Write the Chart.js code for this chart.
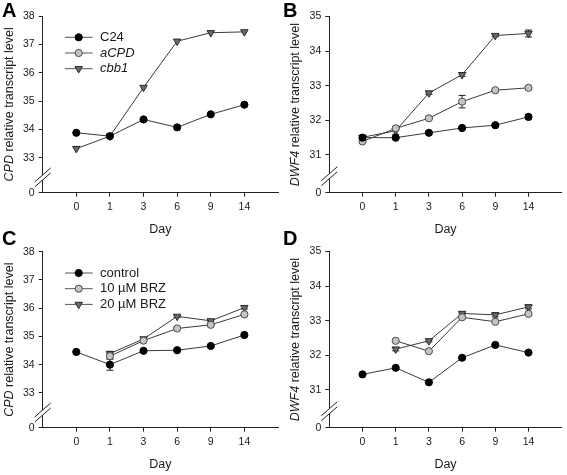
<!DOCTYPE html>
<html><head><meta charset="utf-8">
<script src="https://cdn.jsdelivr.net/npm/chart.js@4/dist/chart.umd.min.js"></script>
<style>
html,body{margin:0;padding:0;background:#fff;}
body{width:567px;height:475px;overflow:hidden;position:relative;}
canvas{position:absolute;}
</style></head>
<body>
<canvas id="cA" width="285" height="240" style="left:0px;top:0px"></canvas>
<canvas id="cB" width="287" height="240" style="left:280px;top:0px"></canvas>
<canvas id="cC" width="285" height="253" style="left:0px;top:222px"></canvas>
<canvas id="cD" width="287" height="253" style="left:280px;top:222px"></canvas>
<script>
// ---------- data ----------
const days = ['0', '1', '3', '6', '9', '14'];
const cpdTicks = [33, 34, 35, 36, 37, 38];
const dwfTicks = [31, 32, 33, 34, 35];
const cpdAxisBottom = 31.765;   // value shown as the broken "0"
const dwfAxisBottom = 29.91;
const breakLabel = '0';

const legendAB = ['C24', 'aCPD', 'cbb1'];
const legendCD = ['control', '10 µM BRZ', '20 µM BRZ'];

// Panel A: CPD transcript
const aC24  = [33.88, 33.76, 34.35, 34.07, 34.53, 34.87];
const aACPD = [null, null, null, null, null, null];
const aCBB1 = [33.32, 33.76, 35.48, 37.11, 37.41, 37.44];

// Panel B: DWF4 transcript
const bC24  = [31.50, 31.50, 31.64, 31.78, 31.86, 32.10];
const bACPD = [31.39, 31.77, 32.06, 32.54, 32.87, 32.94];
const bCBB1 = [31.51, 31.70, 32.79, 33.32, 34.45, 34.51];
const bC24Err  = [0.03, 0.03, 0.03, 0.03, 0.04, 0.06];
const bACPDErr = [0.03, 0.05, 0.03, 0.18, 0.03, 0.03];
const bCBB1Err = [0.03, 0.10, 0.04, 0.05, 0.03, 0.10];

// Panel C: CPD with BRZ
const cCtrl = [34.45, 34.00, 34.49, 34.51, 34.66, 35.05];
const cB10  = [null, 34.30, 34.85, 35.28, 35.41, 35.78];
const cB20  = [null, 34.39, 34.91, 35.71, 35.55, 36.02];
const cCtrlErr = [0.03, 0.20, 0.03, 0.03, 0.05, 0.03];
const cB10Err  = [null, 0.10, 0.03, 0.03, 0.03, 0.03];
const cB20Err  = [null, 0.08, 0.03, 0.03, 0.03, 0.05];

// Panel D: DWF4 with BRZ
const dCtrl = [31.45, 31.64, 31.22, 31.93, 32.30, 32.08];
const dB10  = [null, 32.42, 32.12, 33.10, 32.97, 33.20];
const dB20  = [null, 32.18, 32.42, 33.21, 33.17, 33.40];
const dB20Err = [null, 0.05, 0.03, 0.04, 0.06, 0.06];

// ---------- styling ----------
const FONT = '"Liberation Sans", Arial, Helvetica, sans-serif';
const TXT = '#1a1a1a';
const LINE = '#3a3a3a';
const STY = [
  {bg: '#000000', bd: '#000000', ps: 'circle', rot: 0, r: 3.6},
  {bg: '#c4c4c4', bd: '#4a4a4a', ps: 'circle', rot: 0, r: 3.6},
  {bg: '#6a6a6a', bd: '#2a2a2a', ps: 'triangle', rot: 180, r: 4.3}
];

function ds(label, vals, errs, k) {
  const s = STY[k];
  const pts = [];
  vals.forEach((v, i) => { if (v != null) pts.push({x: i, y: v}); });
  return {
    label, data: pts, errs: errs,
    borderColor: LINE, borderWidth: 1,
    pointStyle: s.ps, rotation: s.rot, pointRadius: s.r, pointHoverRadius: s.r,
    pointBackgroundColor: s.bg, pointBorderColor: s.bd, pointBorderWidth: 1,
    tension: 0, fill: false
  };
}

function panelPlugin(cfg) {
  return {
    id: 'panel' + cfg.letter,
    beforeDatasetsDraw(chart) {
      const ctx = chart.ctx, ys = chart.scales.y, xs = chart.scales.x;
      ctx.save();
      ctx.strokeStyle = '#222'; ctx.lineWidth = 1;
      chart.data.datasets.forEach(d => {
        if (!d.errs) return;
        d.data.forEach(p => {
          const e = d.errs[p.x];
          if (!e) return;
          const px = xs.getPixelForValue(p.x);
          const y1 = ys.getPixelForValue(p.y - e), y2 = ys.getPixelForValue(p.y + e);
          ctx.beginPath();
          ctx.moveTo(px, y1); ctx.lineTo(px, y2);
          ctx.moveTo(px - 3.5, y1); ctx.lineTo(px + 3.5, y1);
          ctx.moveTo(px - 3.5, y2); ctx.lineTo(px + 3.5, y2);
          ctx.stroke();
        });
      });
      ctx.restore();
    },
    afterDraw(chart) {
      const ctx = chart.ctx, ca = chart.chartArea, ys = chart.scales.y;
      ctx.save();
      // axis break
      const lowest = cfg.ticks[0];
      const yb = ys.getPixelForValue(ys.min + (lowest - ys.min) * 0.45);
      const ax = ca.left;
      ctx.fillStyle = '#fff';
      ctx.beginPath();
      ctx.moveTo(ax - 7, yb + 4); ctx.lineTo(ax + 7, yb - 8);
      ctx.lineTo(ax + 7, yb - 3); ctx.lineTo(ax - 7, yb + 9);
      ctx.closePath(); ctx.fill();
      ctx.strokeStyle = '#222'; ctx.lineWidth = 1;
      ctx.beginPath();
      ctx.moveTo(ax - 8, yb + 5); ctx.lineTo(ax + 8, yb - 9);
      ctx.moveTo(ax - 8, yb + 10); ctx.lineTo(ax + 8, yb - 4);
      ctx.stroke();

      // y title with italic gene name
      ctx.fillStyle = TXT;
      ctx.translate(ca.left - 33.5, (ca.top + ca.bottom) / 2);
      ctx.rotate(-Math.PI / 2);
      ctx.textBaseline = 'middle'; ctx.textAlign = 'left';
      ctx.font = 'italic 12.5px ' + FONT;
      const w1 = ctx.measureText(cfg.gene).width;
      ctx.font = '12.5px ' + FONT;
      const rest = ' relative transcript level';
      const w2 = ctx.measureText(rest).width;
      const x0 = -(w1 + w2) / 2;
      ctx.font = 'italic 12.5px ' + FONT;
      ctx.fillText(cfg.gene, x0, 0);
      ctx.font = '12.5px ' + FONT;
      ctx.fillText(rest, x0 + w1, 0);
      ctx.setTransform(1, 0, 0, 1, 0, 0);

      // x title
      ctx.font = '12.5px ' + FONT;
      ctx.textAlign = 'center'; ctx.textBaseline = 'middle';
      ctx.fillText('Day', (ca.left + ca.right) / 2, ca.bottom + 37.3);

      // panel letter
      ctx.font = 'bold 20px ' + FONT;
      ctx.textAlign = 'left'; ctx.textBaseline = 'alphabetic';
      ctx.fillStyle = '#000';
      ctx.fillText(cfg.letter, cfg.lx, cfg.ly);

      // legend
      if (cfg.legend) {
        cfg.legend.forEach((lab, i) => {
          const y = ca.top + 21.3 + i * 15.7;
          const s = STY[i];
          ctx.strokeStyle = '#555'; ctx.lineWidth = 1;
          ctx.beginPath(); ctx.moveTo(ca.left + 22.3, y); ctx.lineTo(ca.left + 50, y); ctx.stroke();
          ctx.fillStyle = s.bg; ctx.strokeStyle = s.bd;
          Chart.helpers.drawPoint(ctx, {pointStyle: s.ps, rotation: s.rot, radius: s.r, borderWidth: 1}, ca.left + 36, y);
          ctx.fillStyle = TXT;
          ctx.font = (cfg.italicLegend && cfg.italicLegend[i] ? 'italic ' : '') + '13px ' + FONT;
          ctx.textBaseline = 'middle';
          ctx.fillText(lab, ca.left + 57.3, y);
        });
      }
      ctx.restore();
    }
  };
}

function makeChart(id, datasets, cfg) {
  const tickFont = {family: FONT, size: 10.5};
  return new Chart(document.getElementById(id), {
    type: 'line',
    data: {datasets},
    options: {
      responsive: false, animation: false,
      layout: {padding: {left: 0, top: cfg.padTop, right: cfg.padRight, bottom: 0}},
      plugins: {legend: {display: false}, tooltip: {enabled: false}},
      scales: {
        x: {
          type: 'linear', min: -1, max: days.length,
          afterBuildTicks: s => { s.ticks = days.map((d, i) => ({value: i})); },
          afterFit: s => { s.height = cfg.xHeight; },
          ticks: {callback: v => days[v], font: tickFont, color: TXT, padding: 4, maxRotation: 0, autoSkip: false},
          grid: {drawOnChartArea: false, drawTicks: true, tickLength: 4, color: '#222'},
          border: {display: true, color: '#222', width: 1}
        },
        y: {
          type: 'linear', min: cfg.bottom, max: cfg.ticks[cfg.ticks.length - 1],
          afterBuildTicks: s => { s.ticks = [cfg.bottom].concat(cfg.ticks).map(v => ({value: v})); },
          afterFit: s => { s.width = cfg.yWidth; },
          ticks: {callback: v => (v === cfg.bottom ? breakLabel : String(v)), font: tickFont, color: TXT, padding: 4, autoSkip: false},
          grid: {drawOnChartArea: false, drawTicks: true, tickLength: 4, color: '#222'},
          border: {display: true, color: '#222', width: 1}
        }
      }
    },
    plugins: [panelPlugin(cfg)]
  });
}

makeChart('cA', [
  ds(legendAB[0], aC24, null, 0),
  ds(legendAB[1], aACPD, null, 1),
  ds(legendAB[2], aCBB1, null, 2)
], {letter: 'A', lx: 2, ly: 17, gene: 'CPD', ticks: cpdTicks, bottom: cpdAxisBottom,
    padTop: 16, padRight: 7, xHeight: 47.3, yWidth: 42.7, legend: legendAB, italicLegend: [false, true, true]});

makeChart('cB', [
  ds(legendAB[0], bC24, bC24Err, 0),
  ds(legendAB[1], bACPD, bACPDErr, 1),
  ds(legendAB[2], bCBB1, bCBB1Err, 2)
], {letter: 'B', lx: 3, ly: 17, gene: 'DWF4', ticks: dwfTicks, bottom: dwfAxisBottom,
    padTop: 16.5, padRight: 2, xHeight: 47.3, yWidth: 49.3});

makeChart('cC', [
  ds(legendCD[0], cCtrl, cCtrlErr, 0),
  ds(legendCD[1], cB10, cB10Err, 1),
  ds(legendCD[2], cB20, cB20Err, 2)
], {letter: 'C', lx: 2, ly: 23, gene: 'CPD', ticks: cpdTicks, bottom: cpdAxisBottom,
    padTop: 29.7, padRight: 7, xHeight: 47.3, yWidth: 42.7, legend: legendCD, italicLegend: [false, false, false]});

makeChart('cD', [
  ds(legendCD[0], dCtrl, null, 0),
  ds(legendCD[1], dB10, null, 1),
  ds(legendCD[2], dB20, dB20Err, 2)
], {letter: 'D', lx: 3, ly: 23, gene: 'DWF4', ticks: dwfTicks, bottom: dwfAxisBottom,
    padTop: 29.5, padRight: 2, xHeight: 47.3, yWidth: 49.3});
</script>
</body></html>
